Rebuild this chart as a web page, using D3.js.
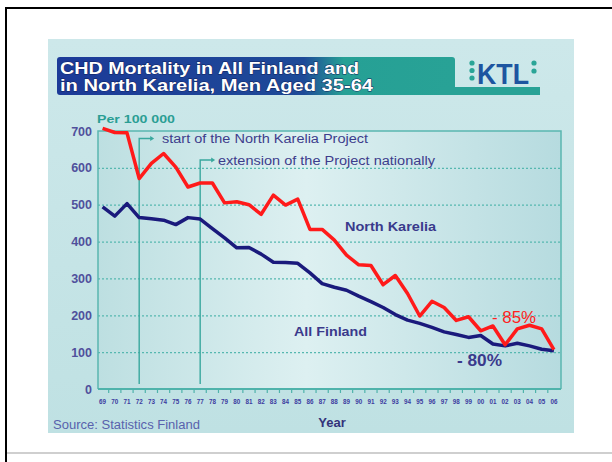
<!DOCTYPE html>
<html>
<head>
<meta charset="utf-8">
<script src="https://cdn.jsdelivr.net/npm/d3@7"></script>
<style>
  body { margin: 0; background: #fff; }
  svg text { font-family: "Liberation Sans", Arial, sans-serif; }
  .ylab text { font-weight: bold; font-size: 12.5px; fill: #50509c; }
  .xlab text { font-weight: bold; font-size: 6.3px; fill: #3c3ca0; }
</style>
</head>
<body>
<script>
// data
const years = ["69","70","71","72","73","74","75","76","77","78","79","80","81","82","83","84","85","86","87",
  "88","89","90","91","92","93","94","95","96","97","98","99","00","01","02","03","04","05","06"];
const northKarelia = [707,696,695,571,612,639,602,548,559,559,505,508,500,474,526,499,515,433,433,
  404,363,337,335,283,308,259,198,238,221,186,196,158,171,120,163,173,163,107];
const allFinland = [494,469,503,465,462,458,446,465,461,435,410,383,384,366,344,343,341,315,286,
  276,268,252,237,221,202,187,178,167,155,148,140,145,122,117,124,117,108,104];
const yTicks = [0,100,200,300,400,500,600,700];
const gridTicks = [100,200,300,400,500,600];

const width = 612, height = 462;

const svg = d3.select("body").append("svg")
  .attr("width", width)
  .attr("height", height);

const defs = svg.append("defs");
const gPanel = defs.append("linearGradient").attr("id","panelGrad")
  .attr("x1",0).attr("y1",0).attr("x2",0).attr("y2",1);
gPanel.append("stop").attr("offset","0%").attr("stop-color","#cde8ea");
gPanel.append("stop").attr("offset","100%").attr("stop-color","#bfe1e3");

const gPlot = defs.append("linearGradient").attr("id","plotGrad")
  .attr("x1",0).attr("y1",0).attr("x2",1).attr("y2",0);
gPlot.append("stop").attr("offset","0%").attr("stop-color","#bddfe1");
gPlot.append("stop").attr("offset","45%").attr("stop-color","#ddf0f1");
gPlot.append("stop").attr("offset","100%").attr("stop-color","#b6dbdf");

const gTitle = defs.append("linearGradient").attr("id","titleGrad")
  .attr("x1",0).attr("y1",0).attr("x2",1).attr("y2",0);
gTitle.append("stop").attr("offset","0%").attr("stop-color","#1c3a98");
gTitle.append("stop").attr("offset","62%").attr("stop-color","#1e4a98");
gTitle.append("stop").attr("offset","72%").attr("stop-color","#26a095");
gTitle.append("stop").attr("offset","100%").attr("stop-color","#28a296");

// frame lines of the slide
svg.append("line").attr("x1",5).attr("x2",612).attr("y1",8).attr("y2",8)
  .attr("stroke","#000").attr("stroke-width",2);
svg.append("line").attr("x1",6).attr("x2",6).attr("y1",7).attr("y2",462)
  .attr("stroke","#000").attr("stroke-width",2);
svg.append("line").attr("x1",7).attr("x2",612).attr("y1",453).attr("y2",453)
  .attr("stroke","#cfcfcf").attr("stroke-width",2);

// panel
svg.append("rect").attr("x",48).attr("y",39).attr("width",526).attr("height",394)
  .attr("fill","url(#panelGrad)");

// title banner
svg.append("rect").attr("x",57).attr("y",57).attr("width",398).attr("height",38)
  .attr("rx",3).attr("fill","url(#titleGrad)");
svg.append("rect").attr("x",440).attr("y",87).attr("width",100).attr("height",8)
  .attr("fill","#28a296");

const title = svg.append("g")
  .attr("fill","#fff").attr("stroke","#10205a").attr("stroke-width",0.8)
  .style("paint-order","stroke").style("white-space","pre")
  .attr("font-weight","bold").attr("font-size","16px");
title.append("text").attr("x",60).attr("y",73.5).attr("textLength",299)
  .attr("lengthAdjust","spacingAndGlyphs").text("CHD Mortality in All Finland and");
title.append("text").attr("x",60).attr("y",90.5).attr("textLength",313)
  .attr("lengthAdjust","spacingAndGlyphs").text("in North Karelia,  Men Aged 35-64");

// KTL logo
const logo = svg.append("g");
[63, 70.5, 78].forEach(cy => logo.append("circle").attr("cx",472).attr("cy",cy).attr("r",2.6).attr("fill","#2aa597"));
logo.append("text").attr("x",477).attr("y",84).attr("font-size","29px").attr("font-weight","bold")
  .attr("fill","#1d55a0").attr("textLength",52).attr("lengthAdjust","spacingAndGlyphs").text("KTL");
[63, 71].forEach(cy => logo.append("circle").attr("cx",534).attr("cy",cy).attr("r",2.6).attr("fill","#2aa597"));

// scales
const x = d3.scaleBand().domain(years).range([96.5, 560]);
const xc = d => x(d) + x.bandwidth() / 2;
const y = d3.scaleLinear().domain([0, 700]).range([389, 131]);
const left = 98, right = 561;

// plot background
svg.append("rect").attr("x",left).attr("y",y(700)).attr("width",right-left).attr("height",y(0)-y(700))
  .attr("fill","url(#plotGrad)");

// grid
svg.append("g")
  .attr("transform","translate(" + left + ",0)")
  .call(d3.axisLeft(y).tickValues(gridTicks).tickSize(-(right-left)).tickFormat(""))
  .call(g => g.select(".domain").remove())
  .call(g => g.selectAll("line").attr("stroke","#56b8b0").attr("stroke-width",1.3).attr("stroke-dasharray","2,2"));

// plot frame
svg.append("path")
  .attr("d", "M" + left + "," + y(0) + "V" + y(700) + "H" + right + "V" + y(0))
  .attr("fill","none").attr("stroke","#5ab7b0").attr("stroke-width",1.5);

// y labels
svg.append("g").attr("class","ylab")
  .attr("transform","translate(" + left + ",0)")
  .call(d3.axisLeft(y).tickValues(yTicks).tickSize(0).tickPadding(6))
  .call(g => g.select(".domain").remove());

// x axis
svg.append("line").attr("x1",left).attr("x2",right).attr("y1",y(0)).attr("y2",y(0))
  .attr("stroke","#4fb3ab").attr("stroke-width",2);
const edges = years.map(d => x(d)).concat([x.range()[1]]);
svg.append("g").selectAll("line").data(edges.slice(1, -1)).join("line")
  .attr("x1", d => d).attr("x2", d => d)
  .attr("y1", y(0)).attr("y2", y(0) + 4)
  .attr("stroke","#4fb3ab").attr("stroke-width",1.2);
svg.append("g").attr("class","xlab")
  .attr("transform","translate(0," + y(0) + ")")
  .call(d3.axisBottom(x).tickSize(0).tickPadding(11))
  .call(g => g.select(".domain").remove());

// project markers
const ann = svg.append("g").attr("fill","#3d3d8c").attr("font-size","12.5px");
function marker(yr, yTop, label, tx, tlen) {
  const px = xc(yr);
  ann.append("path")
    .attr("d", "M" + px + "," + (y(0) - 5) + "V" + yTop + "H" + (px + 12))
    .attr("fill","none").attr("stroke","#3aa89e").attr("stroke-width",1.4);
  ann.append("path")
    .attr("d", "M" + (px + 11) + "," + (yTop - 2.5) + "L" + (px + 15) + "," + yTop + "L" + (px + 11) + "," + (yTop + 2.5) + "Z")
    .attr("fill","#3aa89e");
  ann.append("text").attr("x", tx).attr("y", yTop + 4.5)
    .attr("textLength", tlen).attr("lengthAdjust","spacingAndGlyphs").text(label);
}
marker("72", 138.5, "start of the North Karelia Project", 162, 206);
marker("77", 160, "extension of the Project nationally", 218, 217);

// lines
const line = d3.line().x((d, i) => xc(years[i])).y(d => y(d));
svg.append("path").datum(allFinland)
  .attr("d", line).attr("fill","none").attr("stroke","#1a1a7c")
  .attr("stroke-width",3.5).attr("stroke-linejoin","round");
svg.append("path").datum(northKarelia)
  .attr("d", line).attr("fill","none").attr("stroke","#ff1a1a")
  .attr("stroke-width",3.5).attr("stroke-linejoin","round");

// labels
svg.append("text").attr("x",97).attr("y",123).attr("font-weight","bold").attr("font-size","11.5px")
  .attr("fill","#2a9e94").attr("textLength",78).attr("lengthAdjust","spacingAndGlyphs").text("Per 100 000");
svg.append("text").attr("x",345).attr("y",231).attr("font-weight","bold").attr("font-size","13px")
  .attr("fill","#3a3a8c").attr("textLength",91).attr("lengthAdjust","spacingAndGlyphs").text("North Karelia");
svg.append("text").attr("x",294).attr("y",336).attr("font-weight","bold").attr("font-size","13px")
  .attr("fill","#3a3a8c").attr("textLength",73).attr("lengthAdjust","spacingAndGlyphs").text("All Finland");
svg.append("text").attr("x",457).attr("y",366).attr("font-weight","bold").attr("font-size","16.5px")
  .attr("fill","#3a3a8c").attr("textLength",45).attr("lengthAdjust","spacingAndGlyphs").text("- 80%");
svg.append("text").attr("x",492).attr("y",323).attr("font-size","16.5px")
  .attr("fill","#ff2020").attr("textLength",44).attr("lengthAdjust","spacingAndGlyphs").text("- 85%");
svg.append("text").attr("x",332).attr("y",427).attr("text-anchor","middle").attr("font-weight","bold")
  .attr("font-size","13px").attr("fill","#33337a").text("Year");
svg.append("text").attr("x",53).attr("y",429).attr("font-size","12.5px")
  .attr("fill","#5862ad").attr("textLength",147).attr("lengthAdjust","spacingAndGlyphs").text("Source: Statistics Finland");
</script>
</body>
</html>
